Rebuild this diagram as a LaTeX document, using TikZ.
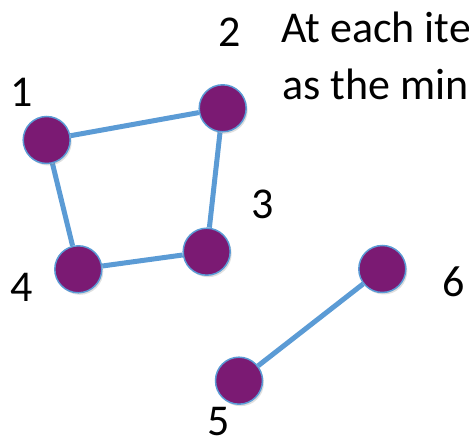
\documentclass[tikz,border=0pt]{standalone}
\usepackage{fontspec}
\setmainfont{Carlito}
\usetikzlibrary{backgrounds,shadows}
\definecolor{vpurple}{HTML}{7B1A73}
\definecolor{eblue}{HTML}{5B9BD5}
\tikzset{
  vertex/.style={circle, minimum size=47pt, inner sep=0pt, fill=vpurple, draw=eblue, line width=1.5pt,
    drop shadow={opacity=0.25, shadow xshift=1.5pt, shadow yshift=-2pt}},
  edge/.style={draw=eblue, line width=5pt},
  vlabel/.style={font=\fontsize{44}{50}\selectfont, anchor=base, inner sep=0pt},
  txt/.style={font=\fontsize{44}{50}\selectfont, anchor=base west, inner sep=0pt}
}
\begin{document}
\begin{tikzpicture}[x=1pt,y=-1pt]
\useasboundingbox (0,0) rectangle (469,438);
\clip (0,0) rectangle (469,438);
\node[vertex] (v1) at (46.7,140) {};
\node[vertex] (v2) at (222.7,108.3) {};
\node[vertex] (v3) at (206.7,251.7) {};
\node[vertex] (v4) at (78.3,269.3) {};
\node[vertex] (v5) at (239,380.7) {};
\node[vertex] (v6) at (382.3,269) {};
\begin{scope}[on background layer]
\draw[edge] (v1) -- (v2);
\draw[edge] (v2) -- (v3);
\draw[edge] (v3) -- (v4);
\draw[edge] (v4) -- (v1);
\draw[edge] (v5) -- (v6);
\end{scope}
\node[vlabel] (l1) at (22,107) {1};
\node[vlabel] (l2) at (230,47) {2};
\node[vlabel] (l3) at (262.5,219) {3};
\node[vlabel] (l4) at (21.5,302) {4};
\node[vlabel] (l5) at (219,436) {5};
\node[vlabel] (l6) at (454,297) {6};
\node[txt] (t1) at (281,43) {At each iteration};
\node[txt] (t2) at (282,100) {as the minimum};
\end{tikzpicture}
\end{document}
